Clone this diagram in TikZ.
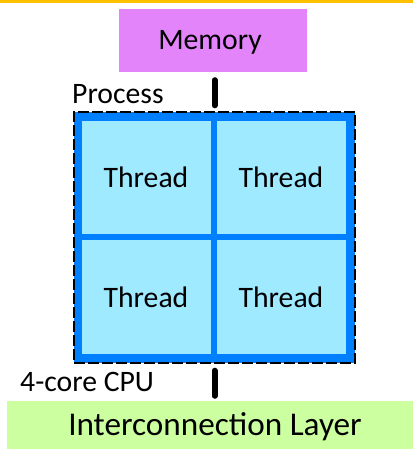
\documentclass[tikz,border=0pt]{standalone}
\usepackage{fontspec}
\setmainfont{Carlito}
\definecolor{topbar}{HTML}{FFC000}
\definecolor{memfill}{HTML}{E384FA}
\definecolor{cpublue}{HTML}{0080FF}
\definecolor{cellblue}{HTML}{A0EAFF}
\definecolor{icgreen}{HTML}{CCFFA0}
\begin{document}
\begin{tikzpicture}[x=1pt,y=-1pt,
  lbl/.style={inner sep=0pt,font=\fontsize{29.7}{34}\selectfont},
  cell/.style={fill=cellblue,draw=none,inner sep=0pt},
  link/.style={line width=6pt,line cap=round,black}]
\useasboundingbox (0,0) rectangle (413,449);
\fill[topbar] (0,0) rectangle (413,2.7);
% memory
\node[fill=memfill,minimum width=188pt,minimum height=63pt,inner sep=0pt] (mem) at (213,40.5) {};
\node[lbl,anchor=base] (memt) at (210,50) {Memory};
% process / cpu frame
\node[fill=cpublue,draw=black,line width=1.4pt,dash pattern=on 11pt off 3pt,minimum width=281pt,minimum height=251pt,inner sep=0pt] (cpu) at (214.5,237.5) {};
\node[cell,minimum width=129pt,minimum height=113pt] (c1) at (146.5,177.5) {};
\node[cell,minimum width=129pt,minimum height=113pt] (c2) at (281.5,177.5) {};
\node[cell,minimum width=129pt,minimum height=114pt] (c3) at (146.5,297) {};
\node[cell,minimum width=129pt,minimum height=114pt] (c4) at (281.5,297) {};
\node[lbl,anchor=base] (t1) at (146,187) {Thread};
\node[lbl,anchor=base] (t2) at (281,187) {Thread};
\node[lbl,anchor=base] (t3) at (146,307) {Thread};
\node[lbl,anchor=base] (t4) at (281,307) {Thread};
\node[lbl,anchor=base west] (proc) at (72,104) {Process};
\node[lbl,anchor=base west] (cpul) at (20,391) {4-core CPU};
% interconnection
\node[fill=icgreen,minimum width=406pt,minimum height=48pt,inner sep=0pt,anchor=east] (ic) at (413,425) {};
\node[inner sep=0pt,font=\fontsize{33.2}{38}\selectfont,anchor=base] (ict) at (215,435) {Interconnection Layer};
% links
\coordinate (m1) at (mem.south -| cpu.north);
\draw[link,shorten <=8pt,shorten >=6pt] (m1) -- (cpu.north);
\coordinate (i1) at (ic.north -| cpu.south);
\draw[link,shorten <=7pt,shorten >=5pt] (cpu.south) -- (i1);
\end{tikzpicture}
\end{document}
